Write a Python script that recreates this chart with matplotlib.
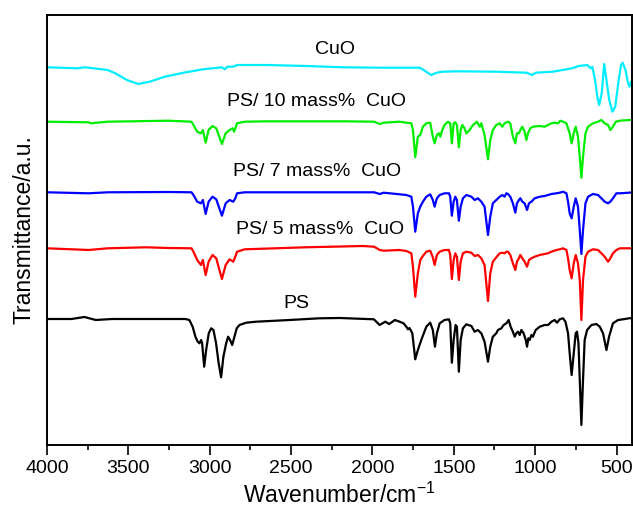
"""FTIR spectra of PS / CuO composites."""
import matplotlib

matplotlib.use("Agg")
import matplotlib.pyplot as plt
from matplotlib.ticker import MultipleLocator

plt.rcParams["font.family"] = ["Liberation Sans", "DejaVu Sans"]
plt.rcParams["mathtext.fontset"] = "custom"
plt.rcParams["mathtext.rm"] = "Liberation Sans"

# ---- data (wavenumber, offset transmittance in a.u.) ----
ps_wn = [4000, 3850, 3770, 3700, 3600, 3450, 3300, 3150, 3125, 3105, 3088, 3074, 3063,
         3053, 3047, 3034, 3022, 3006, 2991, 2977, 2961, 2945, 2930, 2916, 2899, 2887,
         2875, 2862, 2848, 2834, 2817, 2776, 2715, 2510, 2325, 2200, 1991, 1956, 1921,
         1897, 1862, 1833, 1809, 1792, 1782, 1772, 1755, 1737, 1721, 1700, 1669, 1645,
         1629, 1616, 1604, 1587, 1557, 1530, 1522, 1512, 1501, 1489, 1481, 1469, 1458,
         1444, 1423, 1392, 1372, 1352, 1331, 1311, 1290, 1276, 1260, 1239, 1229, 1208,
         1194, 1177, 1163, 1151, 1137, 1126, 1116, 1106, 1095, 1085, 1071, 1058, 1050,
         1042, 1034, 1023, 1014, 997, 972, 942, 921, 900, 880, 866, 849, 829, 814, 798,
         788, 776, 763, 751, 743, 734, 726, 716, 706, 696, 681, 654, 624, 603, 583, 562,
         546, 522, 491, 460, 423, 405]
ps_t = [128, 128, 130, 127, 128, 128, 128, 128, 127, 120.3, 110.3, 105.3, 103.7,
        107, 104.3, 80.3, 97, 113.7, 118.7, 117, 103.7, 83.7, 69.7, 90.3, 103.7, 110.3,
        107, 102, 110.3, 118.7, 122, 124.3, 125.3, 127, 128.7, 129, 127.7, 122, 125.3,
        123, 127, 125.3, 123.7, 120.3, 117.7, 119, 113.7, 87.7, 97, 107, 120.3, 124.3,
        117, 100.3, 113.7, 123.7, 127, 127.7, 123.7, 84.3, 107, 122, 120.3, 75.3, 107,
        118.7, 122.7, 121, 115.3, 117, 113.7, 105.3, 85.3, 100.3, 110.3, 113.7, 117, 118.7,
        122, 123.7, 127, 120.3, 115.3, 110.3, 113.7, 115.3, 112, 117, 113.7, 107, 100.3,
        108.7, 107, 112, 110.3, 117, 120.3, 122, 122, 125.3, 127, 124.3, 127.7, 128.7, 125.3, 113.7,
        93.7, 72, 93.7, 113.7, 115.3, 103.7, 67, 22, 67, 107, 117, 122, 123, 120.3, 113.7, 97,
        110.3, 123.7, 127, 127.7, 128.7, 129]

ps5_wn = [4000, 3744, 3627, 3392, 3252, 3112, 3100, 3077, 3054, 3042, 3025, 3007, 2983,
          2960, 2925, 2902, 2878, 2855, 2843, 2832, 2785, 2410, 2060, 1990, 1955, 1931,
          1833, 1792, 1761, 1751, 1737, 1721, 1706, 1690, 1669, 1645, 1629, 1618, 1604,
          1587, 1557, 1530, 1522, 1512, 1501, 1491, 1481, 1469, 1458, 1444, 1423, 1392,
          1372, 1352, 1331, 1311, 1290, 1276, 1260, 1239, 1218, 1202, 1188, 1177, 1167,
          1153, 1137, 1122, 1112, 1100, 1091, 1079, 1065, 1050, 1038, 1023, 1003, 972, 942,
          921, 900, 870, 849, 829, 808, 798, 788, 776, 763, 751, 737, 726, 716, 706, 691,
          675, 645, 614, 593, 573, 552, 538, 522, 501, 480, 423, 405]
ps5_t = [198.7, 197, 198.7, 199.7, 199, 198.7, 195.3, 187, 182, 187, 172, 185.3, 192,
         188.7, 168, 182, 187.7, 185.3, 190.3, 195.3, 197.7, 199.7, 201, 200.3, 197, 196.3,
         197, 196, 193.7, 180.3, 150.3, 173.7, 187, 191, 195.3, 196.3, 189.7, 182, 192,
         195.3, 197, 197, 192, 168, 187, 193.7, 190.3, 167, 185.3, 193.7, 195.3, 194.3,
         191, 192, 188.7, 182, 146, 173.7, 185.3, 189.7, 193.7, 194.3, 193.7, 195.3, 195.3,
         192, 183.7, 177, 185.3, 188.7, 192, 188.7, 185.3, 180.3, 187, 188.7, 190.3, 192, 193,
         193.7, 195.3, 197, 197.7, 198.7, 197, 188.7, 177, 168.7, 183.7, 192, 183.7, 167, 127,
         167, 190.3, 195.3, 197.7, 197, 193.7, 190.3, 185.3, 188.7, 193.7, 197, 198.7, 198.7,
         198.7]

ps7_wn = [4000, 3744, 3627, 3252, 3112, 3100, 3077, 3054, 3042, 3025, 3007, 2983, 2960,
          2925, 2902, 2878, 2855, 2843, 2832, 2785, 2176, 1990, 1955, 1931, 1833, 1792,
          1761, 1751, 1737, 1721, 1706, 1690, 1669, 1645, 1629, 1618, 1604, 1587, 1557,
          1530, 1522, 1512, 1501, 1491, 1481, 1469, 1458, 1444, 1423, 1392, 1372, 1352,
          1331, 1311, 1290, 1276, 1260, 1239, 1218, 1202, 1188, 1177, 1167, 1153, 1137,
          1122, 1112, 1100, 1091, 1079, 1065, 1050, 1038, 1023, 1003, 972, 942, 921, 900,
          870, 849, 829, 808, 798, 788, 776, 763, 751, 737, 726, 716, 706, 691, 675, 645,
          614, 593, 573, 552, 538, 522, 501, 480, 423, 405]
ps7_t = [254.7, 253.7, 254.7, 255, 254.7, 252, 245.3, 243.7, 247, 233, 245.3, 250.3, 247.7,
         231.3, 243.7, 247, 245.3, 248.7, 253.7, 254.7, 254.7, 254.7, 253, 254.3, 252.7, 252,
         250.3, 240.3, 215.3, 233.7, 240.3, 245.3, 250.3, 252.7, 247, 240.3, 248.7, 252,
         253.7, 253.7, 250.3, 231.3, 245.3, 250.3, 247, 226.3, 240.3, 248.7, 252, 250.3, 247,
         248.7, 245.3, 240.3, 212, 230.3, 243.7, 247, 250.3, 252, 250.3, 253.7, 253, 250.3,
         243.7, 234.3, 243.7, 247, 248.7, 245.3, 243.7, 237, 243.7, 245.3, 248.7, 250.3, 251,
         252, 253, 253.7, 254.3, 255.3, 253.7, 245.3, 233.7, 228.7, 240.3, 248.7, 240.3, 217,
         193, 217, 243.7, 250.3, 253, 252, 248.7, 245.3, 243.7, 245.3, 248.7, 253.7, 253.7,
         254.3, 254.7]

ps10_wn = [4000, 3744, 3732, 3627, 3252, 3112, 3100, 3077, 3054, 3042, 3025, 3007, 2983,
           2960, 2925, 2902, 2878, 2859, 2850, 2832, 2785, 2645, 2176, 1990, 1955, 1931,
           1833, 1792, 1761, 1751, 1737, 1721, 1706, 1690, 1669, 1645, 1629, 1618, 1604,
           1592, 1583, 1571, 1557, 1536, 1522, 1512, 1501, 1491, 1481, 1469, 1458, 1448,
           1434, 1423, 1403, 1382, 1358, 1341, 1331, 1311, 1290, 1276, 1260, 1239, 1218,
           1202, 1188, 1167, 1153, 1137, 1122, 1112, 1100, 1091, 1079, 1065, 1054, 1044,
           1030, 1014, 972, 942, 921, 900, 880, 860, 845, 829, 808, 788, 776, 763, 751, 737,
           726, 716, 706, 691, 675, 645, 614, 593, 573, 552, 538, 522, 505, 480, 423, 405]
ps10_t = [325.3, 324.7, 323.7, 325.3, 326.3, 325.3, 322, 315.3, 313.7, 317, 304.3, 317, 321,
          318.7, 303, 313.7, 317, 318.7, 315.3, 323.7, 325.3, 325.7, 325.7, 325.3, 323, 324.3,
          325.3, 324.3, 323.7, 317, 289.7, 310.3, 312, 320.3, 323.7, 324.3, 310.3, 303.7, 312,
          313.7, 310.3, 317, 322, 325.3, 323.7, 303.7, 323.7, 324.7, 322, 299.7, 317, 322,
          318.7, 313.7, 317, 322, 325.3, 320.3, 323.7, 312, 287.7, 307, 317, 322, 323.7,
          320.3, 323.7, 325.3, 323.7, 310.3, 303.7, 313.7, 313.7, 317, 320.3, 315.3, 307, 313.7,
          318.7, 320.3, 321, 320.3, 322, 323.7, 324.3, 323.7, 326.3, 325.3, 323.7, 313.7, 303.7,
          313.7, 320.3, 310.3, 290.3, 269.3, 290.3, 313.7, 320.3, 323.7, 325.3, 327, 323.7, 322,
          317, 320.3, 325.3, 326.3, 327, 327]

cuo_wn = [4000, 3814, 3767, 3627, 3580, 3509, 3439, 3369, 3276, 3159, 3042, 2925, 2908,
          2890, 2855, 2832, 2645, 2410, 2176, 1943, 1709, 1686, 1639, 1604, 1569, 1476,
          1241, 1054, 1019, 996, 891, 774, 733, 680, 659, 649, 632, 618, 607, 591, 576,
          562, 545, 525, 508, 487, 472, 462, 445, 431, 421, 405]
cuo_t = [379.7, 378.7, 379.7, 377, 373.7, 367, 363, 365.3, 370.3, 374.3, 377.7, 379.7, 377.7,
         380.3, 380.3, 382, 382, 381, 379.7, 379.3, 379.3, 377, 372, 374.3, 375.3, 375.7,
         375.3, 374.3, 372, 374.3, 375.3, 378.7, 381, 382, 378.7, 380.3, 367, 350.3, 342,
         353.7, 383, 367, 347, 335.3, 340.3, 367, 382, 384.3, 377, 365.3, 360.3, 367]

series = [
    (cuo_wn, cuo_t, "#00EEFF", "CuO", 2229, 398),
    (ps10_wn, ps10_t, "#00EE00", "PS/ 10 mass%  CuO", 2344, 345.3),
    (ps7_wn, ps7_t, "#0000FF", "PS/ 7 mass%  CuO", 2338, 275.3),
    (ps5_wn, ps5_t, "#FF0000", "PS/ 5 mass%  CuO", 2319, 217),
    (ps_wn, ps_t, "#000000", "PS", 2467, 144),
]

FS = 14

fig = plt.figure(figsize=(6.33, 5.07), dpi=100)
ax = fig.add_axes([47 / 633, 62 / 507, 585 / 633, 430 / 507])

for wn, t, color, label, lx, ly in series:
    ax.plot(wn, t, color=color, lw=1.6, solid_joinstyle="round")
    ax.text(lx, ly, label, ha="center", va="center", fontsize=FS)

ax.set_xlim(4000, 405)
ax.set_ylim(2, 432)
ax.xaxis.set_major_locator(MultipleLocator(500))
ax.xaxis.set_minor_locator(MultipleLocator(250))
ax.set_yticks([])
ax.tick_params(axis="x", which="major", direction="out", length=7, width=1.2,
               labelsize=FS, pad=4)
ax.tick_params(axis="x", which="minor", direction="out", length=3.5, width=1.2)
for sp in ax.spines.values():
    sp.set_linewidth(1.4)

ax.set_xlabel(r"Wavenumber/cm$^{-1}$", fontsize=16.5, labelpad=4)
ax.set_ylabel("Transmittance/a.u.", fontsize=16.5, labelpad=8)

fig.savefig("out.png", dpi=100)
